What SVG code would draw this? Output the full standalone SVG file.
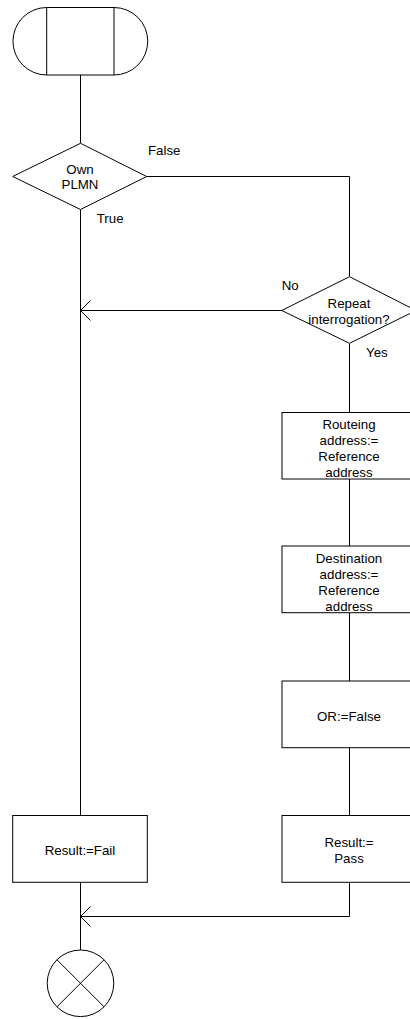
<svg xmlns="http://www.w3.org/2000/svg" width="410" height="1019" viewBox="0 0 410 1019">
<style>
.s{fill:#fff;stroke:#000;stroke-width:1}
.c{fill:none;stroke:#000;stroke-width:1}
text{font-family:"Liberation Sans",Arial,sans-serif;font-size:13.3px;fill:#000}
.m{text-anchor:middle}
</style>
<defs>
<marker id="ah" markerUnits="userSpaceOnUse" overflow="visible" orient="auto" refX="0" refY="0" markerWidth="12" markerHeight="22">
<path d="M-10,-10 L0,0 L-10,10" fill="none" stroke="#000" stroke-width="1"/>
</marker>
</defs>
<g id="connectors">
<path class="c" d="M80.5,75 V143"/>
<path class="c" d="M80.5,209.5 V815.5"/>
<path class="c" d="M146.7,176.5 H349.5 V276.5"/>
<path class="c" d="M282,310.5 H80.5" marker-end="url(#ah)"/>
<path class="c" d="M349.5,343.5 V412.5"/>
<path class="c" d="M349.5,479 V546"/>
<path class="c" d="M349.5,612.7 V681"/>
<path class="c" d="M349.5,747.7 V815.5"/>
<path class="c" d="M349.5,882.3 V916.5 H80.5" marker-end="url(#ah)"/>
<path class="c" d="M80.5,882.3 V950"/>
</g>
<g id="start">
<path class="s" d="M46.7,7.5 H114 A33.75,33.75 0 0 1 114,75 H46.7 A33.75,33.75 0 0 1 46.7,7.5 Z"/>
<path class="c" d="M46.7,7.5 V75 M114,7.5 V75"/>
</g>
<g id="ownPlmn">
<polygon class="s" points="80.5,143.3 146.7,176.5 80.5,209.5 12.7,176.5"/>
<text class="m" x="80" y="174.3">Own</text>
<text class="m" x="80" y="188.7">PLMN</text>
<text x="148" y="155.3">False</text>
<text x="96.7" y="222.7">True</text>
</g>
<g id="repeat">
<polygon class="s" points="349.5,276.7 416,310.5 349.5,343.3 281.7,310.5"/>
<text class="m" x="349" y="307.7">Repeat</text>
<text class="m" x="349" y="323.7">interrogation?</text>
<text x="281.7" y="289.5">No</text>
<text x="366" y="356.7">Yes</text>
</g>
<g id="routeing">
<rect class="s" x="282" y="412.5" width="134" height="66.5"/>
<text class="m" x="349" y="429.3">Routeing</text>
<text class="m" x="349" y="445.2">address:=</text>
<text class="m" x="349" y="461.1">Reference</text>
<text class="m" x="349" y="477">address</text>
</g>
<g id="destination">
<rect class="s" x="282" y="546" width="134" height="66.7"/>
<text class="m" x="349" y="563">Destination</text>
<text class="m" x="349" y="578.9">address:=</text>
<text class="m" x="349" y="594.8">Reference</text>
<text class="m" x="349" y="610.7">address</text>
</g>
<g id="orFalse">
<rect class="s" x="282" y="681" width="134" height="66.7"/>
<text class="m" x="349" y="720.5">OR:=False</text>
</g>
<g id="resultPass">
<rect class="s" x="282" y="815.5" width="134" height="66.8"/>
<text class="m" x="349" y="847">Result:=</text>
<text class="m" x="349" y="862.5">Pass</text>
</g>
<g id="resultFail">
<rect class="s" x="12.7" y="815.5" width="134.6" height="66.8"/>
<text class="m" x="80" y="854.7">Result:=Fail</text>
</g>
<g id="end">
<circle class="s" cx="80.5" cy="983.3" r="33.3"/>
<path class="c" d="M56.9,959.7 L104.1,1006.9 M104.1,959.7 L56.9,1006.9"/>
</g>
</svg>
